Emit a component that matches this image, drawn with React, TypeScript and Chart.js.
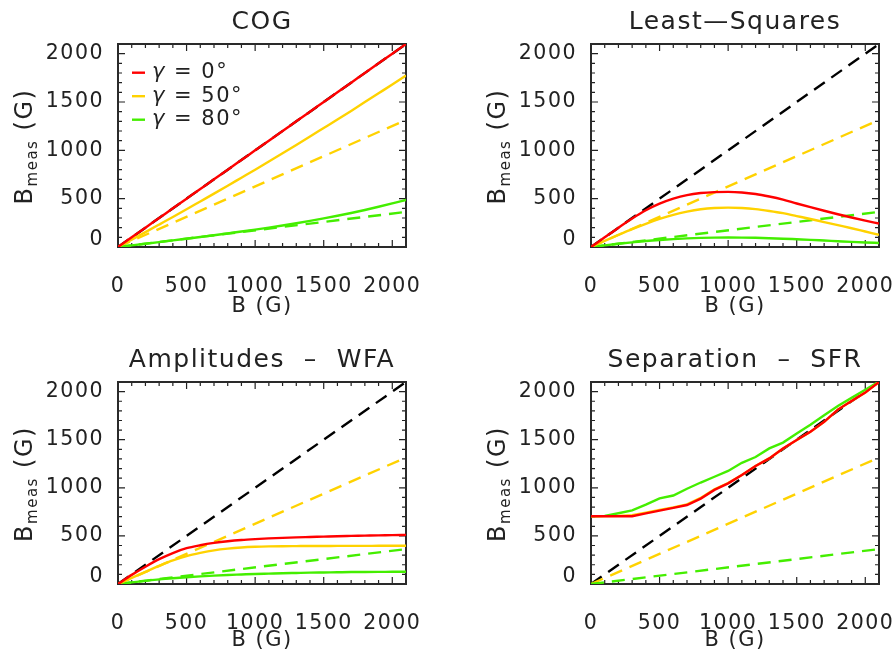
import React, { useEffect, useRef } from 'react';
import { Chart, registerables } from 'chart.js';

Chart.register(...registerables);

// True field strength B (G) at which every inversion was sampled
const B_FIELD = [0, 100, 200, 300, 400, 500, 600, 700, 800, 900, 1000, 1100, 1200, 1300, 1400, 1500, 1600, 1700, 1800, 1900, 2000, 2100];

// Centre-of-gravity method
const COG_G0 = [0, 100, 200, 300, 400, 500, 600, 700, 800, 900, 1000, 1100, 1200, 1300, 1400, 1500, 1600, 1700, 1800, 1900, 2000, 2100];
const COG_G50 = [0, 76, 154, 232, 310, 390, 471, 552, 634, 717, 800, 885, 970, 1056, 1143, 1231, 1319, 1408, 1499, 1590, 1681, 1774];
const COG_G80 = [0, 17, 34, 51, 68, 86, 104, 122, 141, 160, 180, 201, 223, 246, 270, 296, 323, 352, 383, 416, 451, 487];

// Least-squares fit
const LSQ_G0 = [0, 100, 200, 295, 380, 448, 500, 537, 558, 568, 570, 564, 548, 522, 490, 450, 412, 375, 339, 305, 273, 243];
const LSQ_G50 = [0, 63, 125, 185, 240, 290, 333, 366, 390, 403, 407, 403, 392, 373, 350, 320, 290, 258, 226, 194, 160, 126];
const LSQ_G80 = [0, 17, 33, 48, 62, 73, 82, 89, 94, 97, 98, 97, 95, 91, 86, 80, 74, 67, 60, 53, 47, 42];

// Weak-field approximation on the amplitudes
const WFA_G0 = [0, 95, 180, 258, 322, 372, 403, 427, 445, 458, 467, 474, 480, 485, 489, 493, 497, 500, 503, 506, 508, 511];
const WFA_G50 = [0, 63, 126, 188, 245, 290, 323, 350, 368, 380, 387, 391, 393, 394, 395, 395, 396, 396, 396, 397, 397, 397];
const WFA_G80 = [0, 17, 33, 48, 60, 70, 79, 87, 94, 99, 104, 108, 112, 115, 118, 120, 122, 124, 125, 126, 127, 128];

// Lobe separation (strong-field regime)
const SFR_G0 = [705, 705, 705, 705, 735, 763, 792, 821, 888, 978, 1046, 1133, 1226, 1306, 1409, 1496, 1582, 1685, 1813, 1903, 1990, 2100];
const SFR_G50 = [705, 706, 708, 716, 742, 770, 797, 828, 895, 985, 1050, 1133, 1226, 1306, 1409, 1496, 1582, 1685, 1813, 1903, 1990, 2100];
const SFR_G80 = [705, 708, 735, 765, 825, 890, 920, 990, 1055, 1115, 1175, 1260, 1320, 1410, 1470, 1565, 1655, 1755, 1850, 1935, 2020, 2105];

// Reference lines B_meas = B cos(gamma), given at both ends
const REF_B = [0, 2100];
const REF_G0 = [0, 2100];
const REF_G50 = [0, 1315];
const REF_G80 = [0, 363];

const AXIS_MIN = 0;
const AXIS_MAX = 2100;
const TICK_VALUES = [0, 500, 1000, 1500, 2000];
const MINOR_STEP = 100;

const LEGEND_ANGLES = ['0°', '50°', '80°'];

const RED = '#ff0000';
const YELLOW = '#ffd200';
const GREEN = '#44ee00';
const BLACK = '#000000';
const INK = '#222222';
const FONT = 'DejaVu Sans';
const WEIGHT = '400';

type Panel = {
  title: string;
  g0: number[];
  g50: number[];
  g80: number[];
  legend: boolean;
  smooth: boolean;
  x: number;
  y: number;
  area: { left: number; right: number; top: number; bottom: number };
  titleTop: number;
  xTitleBottom: number;
};

const W = 448;
const H = 327;

const PANELS: Panel[] = [
  { title: 'COG', g0: COG_G0, g50: COG_G50, g80: COG_G80, legend: true, smooth: true, x: 0, y: 0,
    area: { left: 118, right: 406, top: 44, bottom: 247 }, titleTop: 7, xTitleBottom: 8 },
  { title: 'Least—Squares', g0: LSQ_G0, g50: LSQ_G50, g80: LSQ_G80, legend: false, smooth: true, x: 448, y: 0,
    area: { left: 143, right: 431, top: 44, bottom: 247 }, titleTop: 7, xTitleBottom: 8 },
  { title: 'Amplitudes  –  WFA', g0: WFA_G0, g50: WFA_G50, g80: WFA_G80, legend: false, smooth: true, x: 0, y: 327,
    area: { left: 118, right: 406, top: 55, bottom: 257 }, titleTop: 18, xTitleBottom: 1 },
  { title: 'Separation  –  SFR', g0: SFR_G0, g50: SFR_G50, g80: SFR_G80, legend: false, smooth: false, x: 448, y: 327,
    area: { left: 143, right: 431, top: 55, bottom: 257 }, titleTop: 18, xTitleBottom: 1 },
];

const pts = (xs: number[], ys: number[]) => xs.map((b, i) => ({ x: b, y: ys[i] }));

function solid(ys: number[], color: string, smooth: boolean) {
  return {
    data: pts(B_FIELD, ys),
    borderColor: color,
    borderWidth: 2.4,
    pointRadius: 0,
    fill: false,
    tension: 0,
    cubicInterpolationMode: smooth ? 'monotone' : 'default',
  };
}

function dashed(ys: number[], color: string) {
  return {
    data: pts(REF_B, ys),
    borderColor: color,
    borderWidth: 2.4,
    borderDash: [13, 8],
    pointRadius: 0,
    fill: false,
  };
}

function makeFramePlugin(panel: Panel) {
  return {
    id: 'idlFrame',
    beforeDraw(chart: any) {
      chart.ctx.letterSpacing = '1.5px';
    },
    beforeDatasetsDraw(chart: any) {
      const { ctx, chartArea: a, scales } = chart;
      const xs = scales.x;
      const ys = scales.y;
      ctx.save();
      ctx.strokeStyle = INK;
      ctx.lineWidth = 1.2;
      ctx.beginPath();
      for (let v = AXIS_MIN; v <= AXIS_MAX; v += MINOR_STEP) {
        const len = TICK_VALUES.includes(v) ? 7 : 4;
        const px = xs.getPixelForValue(v);
        ctx.moveTo(px, a.bottom);
        ctx.lineTo(px, a.bottom - len);
        ctx.moveTo(px, a.top);
        ctx.lineTo(px, a.top + len);
        const py = ys.getPixelForValue(v);
        ctx.moveTo(a.left, py);
        ctx.lineTo(a.left + len, py);
        ctx.moveTo(a.right, py);
        ctx.lineTo(a.right - len, py);
      }
      ctx.stroke();
      ctx.lineWidth = 2;
      ctx.strokeStyle = '#2a2a2a';
      ctx.strokeRect(a.left, a.top, a.right - a.left, a.bottom - a.top);
      ctx.restore();
    },
    afterDraw(chart: any) {
      const { ctx, chartArea: a } = chart;
      // y-axis title with subscript
      ctx.save();
      ctx.fillStyle = INK;
      ctx.letterSpacing = '1.5px';
      ctx.textAlign = 'left';
      ctx.textBaseline = 'alphabetic';
      const big = `${WEIGHT} 24px "${FONT}"`;
      const small = `${WEIGHT} 15px "${FONT}"`;
      ctx.font = big;
      const wB = ctx.measureText('B').width;
      const wG = ctx.measureText(' (G)').width;
      ctx.font = small;
      const wM = ctx.measureText('meas').width;
      const total = wB + wM + wG;
      ctx.translate(a.left - 86, (a.top + a.bottom) / 2 + 1);
      ctx.rotate(-Math.PI / 2);
      let x0 = -total / 2;
      ctx.font = big;
      ctx.fillText('B', x0, 0);
      x0 += wB;
      ctx.font = small;
      ctx.fillText('meas', x0, 5);
      x0 += wM;
      ctx.font = big;
      ctx.fillText(' (G)', x0, 0);
      ctx.restore();

      if (!panel.legend) return;
      const colors = [RED, YELLOW, GREEN];
      ctx.save();
      ctx.letterSpacing = '1.5px';
      ctx.textBaseline = 'middle';
      ctx.textAlign = 'left';
      LEGEND_ANGLES.forEach((ang, i) => {
        const yy = a.top + 28.7 + i * 23.5;
        ctx.strokeStyle = colors[i];
        ctx.lineWidth = 2.4;
        ctx.beginPath();
        ctx.moveTo(a.left + 14, yy);
        ctx.lineTo(a.left + 27, yy);
        ctx.stroke();
        ctx.fillStyle = INK;
        ctx.font = `italic ${WEIGHT} 21px "${FONT}"`;
        const tx = a.left + 34;
        ctx.fillText('γ', tx, yy);
        const wg = ctx.measureText('γ').width;
        ctx.font = `${WEIGHT} 21px "${FONT}"`;
        ctx.fillText(` = ${ang}`, tx + wg, yy);
      });
      ctx.restore();
    },
  };
}

function PanelChart({ panel }: { panel: Panel }) {
  const ref = useRef<HTMLCanvasElement | null>(null);

  useEffect(() => {
    if (!ref.current) return;
    const tickFont = { family: FONT, size: 20.5, weight: WEIGHT as any };
    const { area } = panel;
    const chart = new Chart(ref.current, {
      type: 'line',
      data: {
        datasets: [
          solid(panel.g0, RED, panel.smooth),
          solid(panel.g50, YELLOW, panel.smooth),
          solid(panel.g80, GREEN, panel.smooth),
          dashed(REF_G80, GREEN),
          dashed(REF_G50, YELLOW),
          dashed(REF_G0, BLACK),
        ] as any,
      },
      options: {
        responsive: false,
        animation: false,
        devicePixelRatio: 1,
        events: [],
        layout: {
          autoPadding: false,
          padding: { left: 0, top: 0, right: W - area.right, bottom: 0 },
        },
        plugins: {
          legend: { display: false },
          tooltip: { enabled: false },
          title: {
            display: true,
            text: panel.title,
            fullSize: false,
            color: INK,
            font: { family: FONT, size: 25, weight: WEIGHT as any, lineHeight: 1.2 },
            padding: { top: panel.titleTop, bottom: area.top - panel.titleTop - 30 },
          },
        },
        scales: {
          x: {
            type: 'linear',
            position: 'bottom',
            min: AXIS_MIN,
            max: AXIS_MAX,
            grid: { display: false },
            border: { display: false },
            afterBuildTicks: (s: any) => {
              s.ticks = TICK_VALUES.map((v) => ({ value: v }));
            },
            afterFit: (s: any) => {
              s.height = H - area.bottom;
              s.paddingLeft = 0;
              s.paddingRight = 0;
              s.paddingTop = 0;
              s.paddingBottom = 0;
            },
            ticks: {
              autoSkip: false,
              maxRotation: 0,
              minRotation: 0,
              padding: 19,
              color: INK,
              font: tickFont,
              callback: (v: any) => String(v),
            },
            title: {
              display: true,
              text: 'B (G)',
              color: INK,
              font: { family: FONT, size: 21, weight: WEIGHT as any },
              padding: { top: 0, bottom: panel.xTitleBottom },
            },
          },
          y: {
            type: 'linear',
            position: 'left',
            min: AXIS_MIN,
            max: AXIS_MAX,
            grid: { display: false },
            border: { display: false },
            afterBuildTicks: (s: any) => {
              s.ticks = TICK_VALUES.map((v) => ({ value: v }));
            },
            afterFit: (s: any) => {
              s.width = area.left;
              s.paddingLeft = 0;
              s.paddingRight = 0;
              s.paddingTop = 0;
              s.paddingBottom = 0;
            },
            ticks: {
              autoSkip: false,
              padding: 6,
              color: INK,
              // the zero label sits a little above its tick
              font: (c: any) =>
                c.tick && c.tick.value === 0 ? { ...tickFont, lineHeight: 0.68 } : tickFont,
              callback: (v: any) => (Number(v) === 0 ? ['0', ''] : String(v)),
            },
          },
        },
      } as any,
      plugins: [makeFramePlugin(panel)],
    });
    return () => chart.destroy();
  }, [panel]);

  return (
    <canvas
      ref={ref}
      width={W}
      height={H}
      style={{ position: 'absolute', left: panel.x, top: panel.y, width: W, height: H, display: 'block' }}
    />
  );
}

export default function App() {
  return (
    <div style={{ position: 'absolute', left: 0, top: 0, width: 896, height: 654, background: '#ffffff', overflow: 'hidden' }}>
      {PANELS.map((p) => (
        <PanelChart key={p.title} panel={p} />
      ))}
    </div>
  );
}
